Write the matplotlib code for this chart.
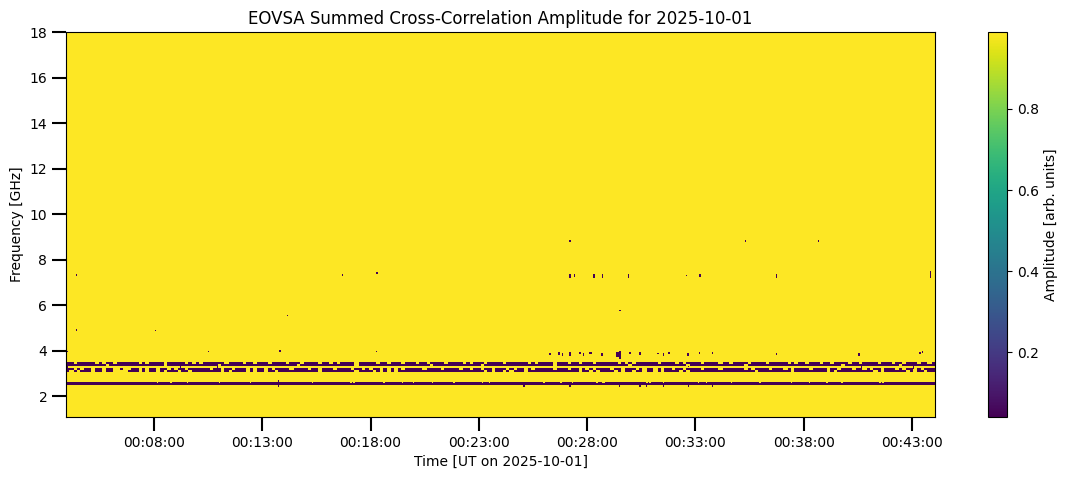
import numpy as np
import matplotlib
matplotlib.use("Agg")
import matplotlib.pyplot as plt
import matplotlib.dates as mdates
from datetime import datetime, timedelta

# ---------------- data ----------------
obs_date = "2025-10-01"
t_start_min = 3.94      # minutes after 00:00 UT
t_end_min = 44.06
f_min_ghz = 1.08
f_max_ghz = 18.0
amp_high = 0.99         # normal amplitude
amp_low = 0.04          # flagged / dropped amplitude

# Persistent low-amplitude bands: (f_lo, f_hi) in GHz
band_a = (3.43, 3.51)
band_b = (3.34, 3.43)
band_c = (3.14, 3.22)
band_d = (3.04, 3.14)
band_e = (2.49, 2.63)

# Occupancy of each band in time: one char per 10 s ('#' = low, '.' = normal)
band_a_pattern = (
    "##.###" "##.#.#" "#.####" "##.#.#" "###.##" "###.#." "#.####" "##.###" "#.##.#" "##.###"
    "#.###." "####.#" "#.#.##" "##.###" "##.##." "###.##" "#.##.#" "###.##" "##.#.#" "##.###"
    "#.####" "##.#.#" "###.##" "#.##.#" "##.###" "###.#." "#.####" "##.###" "#.#.##" "##.###"
    "#.##.#" "###.##" "##.###" "##.#.#" "#.###." "##.###" "#.##.#" "###.##" "#.##.#" "##.##." "#"
)
band_b_pattern = (
    "######" "#####." "######" "######" "###.##" "######" "######" ".#####" "######" "######"
    "####.#" "######" "######" "##.###" "######" "######" "#####." "######" "######" "#.####"
    "######" "######" "###.##" "######" "######" "######" ".#####" "######" "####.#" "######"
    "######" "##.###" "######" "######" "######" "#####." "######" "######" "###.##" "######" "#"
)
band_c_pattern = (
    "##.#.#" "#.##.#" "#..#.." "##.#.#" "#.##.#" ".##.##" "####.#" "#.##.#" "##.#.#" "#.#.##"
    "##.###" "#.##.#" "##.###" "#.##.#" ".##.#." "#.#.##" "###.##" "##.###" "#.##.#" "#.##.#"
    "##.#.#" "#.#.##" "###.##" "#.##.#" ".#.###" "#.##.#" "##.#.#" "#.#.##" ".##.##" "##.###"
    "#.####" "##.#.#" "###.##" "#.#.##" "##.###" "#.##.#" "##.##." "#.##.#" "##.#.#" "#.#.##" "#"
)
band_d_pattern = (
    "#.#.##" "#.##.#" "#....#" "##.#.#" "#.#.##" "#.##.#" "######" "#.#.##" "##.#.#" "#.##.#"
    "######" "####.#" "######" "##.###" "#.#.#." "#.####" "######" "######" "######" "##.#.#"
    "#.#.##" "#.####" "######" "####.#" "#.#.##" "##.#.#" "#.##.#" "#.#.##" "##.#.#" "######"
    "######" "#####." "######" "###.##" "######" "#.#.##" "######" "##.#.#" "#####." "#.##.#" "#"
)

# Short gaps (minutes) in the lowest band, upper half
band_e_gap_times = [8.18, 8.79, 9.56, 11.02, 12.48, 15.32, 17.09, 17.24, 18.62, 19.47,
                    19.96, 20.88, 21.85, 23.16, 23.47, 26.0, 26.81, 27.33, 28.45, 28.76,
                    30.76, 30.91, 31.52, 33.14, 33.53, 34.68, 35.98, 37.44, 38.29, 39.05,
                    39.75, 41.51, 41.66]

# Isolated dropouts: time [min], width [min], f_lo, f_hi [GHz]
drop_t = [4.00, 10.50, 13.80, 18.28, 26.30, 26.70, 26.87, 27.20, 27.65, 27.84,
          28.15, 28.70, 29.40, 29.50, 29.96, 30.45, 31.25, 31.52, 31.76, 32.67,
          33.18, 33.78, 36.73, 40.56, 43.36, 43.50,
          4.43, 16.73, 18.30, 27.20, 27.41, 28.30, 28.71, 29.36, 29.91, 31.19,
          31.52, 32.26, 32.58, 33.20, 36.73, 43.83,
          27.20, 35.35, 38.67,
          4.43, 8.07, 14.18, 29.50,
          4.00, 9.20, 10.90, 25.00, 32.67, 40.70, 43.10,
          13.78, 25.10, 27.20, 29.47, 30.45, 30.73, 31.52, 32.68, 33.78]
drop_w = [0.06, 0.06, 0.06, 0.06, 0.06, 0.06, 0.06, 0.10, 0.06, 0.06,
          0.06, 0.06, 0.06, 0.06, 0.06, 0.10, 0.06, 0.06, 0.06, 0.10,
          0.06, 0.06, 0.06, 0.06, 0.06, 0.06,
          0.06, 0.06, 0.06, 0.12, 0.06, 0.06, 0.06, 0.06, 0.06, 0.06,
          0.06, 0.06, 0.06, 0.12, 0.06, 0.08,
          0.06, 0.06, 0.06,
          0.06, 0.06, 0.06, 0.06,
          0.06, 0.06, 0.06, 0.06, 0.06, 0.06, 0.06,
          0.06, 0.06, 0.06, 0.06, 0.06, 0.06, 0.06, 0.06, 0.06]
drop_flo = [3.93, 3.93, 3.92, 3.93, 3.80, 3.80, 3.76, 3.76, 3.85, 3.78,
            3.85, 3.75, 3.72, 3.62, 3.85, 3.80, 3.85, 3.76, 3.85, 3.78,
            3.85, 3.85, 3.80, 3.76, 3.85, 3.88,
            7.28, 7.28, 7.38, 7.18, 7.22, 7.20, 7.20, 7.30, 7.20, 7.30,
            7.30, 7.30, 7.26, 7.25, 7.20, 7.18,
            8.79, 8.79, 8.79,
            4.87, 4.85, 5.51, 5.72,
            3.20, 3.21, 3.21, 3.30, 3.28, 3.21, 3.21,
            2.40, 2.40, 2.40, 2.40, 2.40, 2.40, 2.40, 2.40, 2.40]
drop_fhi = [4.00, 4.00, 4.02, 4.00, 3.90, 3.92, 3.91, 3.95, 3.92, 3.90,
            3.92, 3.88, 3.93, 3.97, 3.92, 3.92, 3.90, 3.91, 3.92, 3.91,
            3.92, 3.92, 3.88, 3.91, 3.93, 4.00,
            7.36, 7.36, 7.46, 7.35, 7.35, 7.35, 7.35, 7.34, 7.35, 7.34,
            7.34, 7.34, 7.30, 7.35, 7.35, 7.48,
            8.85, 8.85, 8.85,
            4.93, 4.91, 5.57, 5.78,
            3.34, 3.34, 3.30, 3.34, 3.34, 3.34, 3.30,
            2.70, 2.48, 2.49, 2.48, 2.48, 2.48, 2.48, 2.48, 2.48]

# ---------------- build the amplitude grid ----------------
dt_min = 3.0 / 60.0
df_ghz = 0.01
n_t = int(round((t_end_min - t_start_min) / dt_min))
n_f = int(round((f_max_ghz - f_min_ghz) / df_ghz))
t_cent = t_start_min + (np.arange(n_t) + 0.5) * (t_end_min - t_start_min) / n_t
f_cent = f_min_ghz + (np.arange(n_f) + 0.5) * (f_max_ghz - f_min_ghz) / n_f
Z = np.full((n_f, n_t), amp_high)


def rows_for(flo, fhi):
    r = np.where((f_cent >= flo) & (f_cent < fhi))[0]
    if r.size == 0:
        r = np.array([np.argmin(np.abs(f_cent - 0.5 * (flo + fhi)))])
    return r


def cols_for(tlo, thi):
    c = np.where((t_cent >= tlo) & (t_cent < thi))[0]
    if c.size == 0:
        c = np.array([np.argmin(np.abs(t_cent - 0.5 * (tlo + thi)))])
    return c


def apply_pattern(band, pattern):
    r = rows_for(*band)
    L = len(pattern)
    idx = np.clip(((t_cent - t_start_min) / (t_end_min - t_start_min) * L).astype(int), 0, L - 1)
    occ = np.array([pattern[i] == '#' for i in idx])
    Z[np.ix_(r, np.where(occ)[0])] = amp_low


apply_pattern(band_a, band_a_pattern)
apply_pattern(band_b, band_b_pattern)
apply_pattern(band_c, band_c_pattern)
apply_pattern(band_d, band_d_pattern)
Z[rows_for(*band_e)[:, None], np.arange(n_t)[None, :]] = amp_low
for tg in band_e_gap_times:
    Z[np.ix_(rows_for(2.57, band_e[1]), cols_for(tg - 0.035, tg + 0.035))] = amp_high
for t, w, flo, fhi in zip(drop_t, drop_w, drop_flo, drop_fhi):
    Z[np.ix_(rows_for(flo, fhi), cols_for(t - w / 2, t + w / 2))] = amp_low

# ---------------- plot ----------------
day0 = datetime.strptime(obs_date, "%Y-%m-%d")
x0 = mdates.date2num(day0 + timedelta(minutes=t_start_min))
x1 = mdates.date2num(day0 + timedelta(minutes=t_end_min))

fig = plt.figure(figsize=(10.68, 4.79), dpi=100)
ax = fig.add_axes([66 / 1068, 1 - 417 / 479, 869 / 1068, 385 / 479])
cax = fig.add_axes([988 / 1068, 1 - 417 / 479, 19 / 1068, 385 / 479])

im = ax.imshow(Z, extent=[x0, x1, f_min_ghz, f_max_ghz], origin="lower",
               aspect="auto", interpolation="nearest", cmap="viridis")
ax.set_xlim(x0, x1)
ax.set_ylim(f_min_ghz, f_max_ghz)
ax.xaxis.set_major_locator(mdates.MinuteLocator(byminute=range(3, 60, 5)))
ax.xaxis.set_major_formatter(mdates.DateFormatter("%H:%M:%S"))
ax.set_yticks([2, 4, 6, 8, 10, 12, 14, 16, 18])
ax.tick_params(axis="both", length=10, width=1.5, labelsize=10)
ax.set_xlabel(f"Time [UT on {obs_date}]", fontsize=10)
ax.set_ylabel("Frequency [GHz]", fontsize=10)
ax.set_title(f"EOVSA Summed Cross-Correlation Amplitude for {obs_date}", fontsize=12)

cb = fig.colorbar(im, cax=cax)
cb.set_label("Amplitude [arb. units]", fontsize=10)
cb.set_ticks([0.2, 0.4, 0.6, 0.8])

fig.savefig("out.png", dpi=100)
